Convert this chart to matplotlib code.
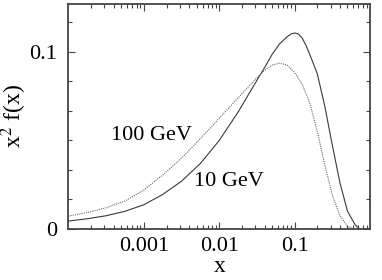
import numpy as np
import matplotlib.pyplot as plt
from matplotlib.ticker import FixedLocator, FixedFormatter, MultipleLocator, LogLocator, NullFormatter

# values, x given as log10(x)
logx_10 = [-4.0, -3.75, -3.5, -3.25, -3.0, -2.75, -2.5, -2.25, -2.0, -1.75, -1.5,
           -1.4, -1.3, -1.2, -1.1, -1.05, -1.0, -0.95, -0.9, -0.85, -0.8, -0.75,
           -0.7, -0.6, -0.5, -0.4, -0.3, -0.2, -0.14]
y_10 = [0.0045, 0.0058, 0.0075, 0.0100, 0.0137, 0.0195, 0.0270, 0.0370, 0.0500, 0.0660, 0.0840,
        0.0910, 0.0985, 0.1045, 0.1085, 0.1100, 0.1106, 0.1100, 0.1077, 0.1035, 0.0985, 0.0930,
        0.0875, 0.0690, 0.0470, 0.0260, 0.0100, 0.0025, 0.0]

logx_100 = [-4.0, -3.75, -3.5, -3.25, -3.0, -2.75, -2.5, -2.25, -2.0, -1.75, -1.5,
            -1.4, -1.3, -1.2, -1.1, -1.0, -0.9, -0.8, -0.7, -0.6, -0.5, -0.4,
            -0.3, -0.21]
y_100 = [0.0073, 0.0093, 0.0120, 0.0158, 0.0220, 0.0305, 0.0400, 0.0510, 0.0625, 0.0740, 0.0855,
         0.0895, 0.0925, 0.0936, 0.0925, 0.0882, 0.0815, 0.0710, 0.0550, 0.0360, 0.0190, 0.0075,
         0.0015, 0.0]

xticks = [0.001, 0.01, 0.1]
xticklabels = ["0.001", "0.01", "0.1"]
yticks = [0, 0.1]
yticklabels = ["0", "0.1"]

plt.rcParams['font.family'] = ['Liberation Serif', 'DejaVu Serif']
plt.rcParams['mathtext.fontset'] = 'stix'

fig = plt.figure(figsize=(3.82, 2.80), dpi=100)
ax = fig.add_axes([0.179, 0.182, 0.79, 0.804])

ax.plot(10 ** np.array(logx_10), y_10, color='#3a3a3a', lw=0.8)
ax.plot(10 ** np.array(logx_100), y_100, color='#666666', lw=0.8, linestyle=(0, (1, 1)))

ax.set_xscale('log')
ax.set_xlim(1e-4, 1)
ax.set_ylim(0, 0.127)

ax.xaxis.set_major_locator(FixedLocator(xticks))
ax.xaxis.set_major_formatter(FixedFormatter(xticklabels))
ax.xaxis.set_minor_locator(LogLocator(base=10, subs=np.arange(2, 10)))
ax.xaxis.set_minor_formatter(NullFormatter())
ax.yaxis.set_major_locator(FixedLocator(yticks))
ax.yaxis.set_major_formatter(FixedFormatter(yticklabels))
ax.yaxis.set_minor_locator(MultipleLocator(0.1 / 6))

ax.tick_params(which='both', direction='in', top=True, right=True, labelsize=16,
               color='#444444', width=0.8)
ax.tick_params(which='major', length=5, pad=6)
ax.tick_params(which='minor', length=3)
ax.tick_params(axis='y', which='major', pad=8)
for s in ax.spines.values():
    s.set_color('#444444')
    s.set_linewidth(1.3)

ax.text(0.00125, 0.053, "100 GeV", fontsize=16, ha='center', va='center')
ax.text(0.0135, 0.0266, "10 GeV", fontsize=16, ha='center', va='center')

ax.set_xlabel("x", fontsize=17, labelpad=0)
ax.set_ylabel(r"x$^2$ f(x)", fontsize=17, labelpad=0)

fig.savefig("out.png", dpi=100)
